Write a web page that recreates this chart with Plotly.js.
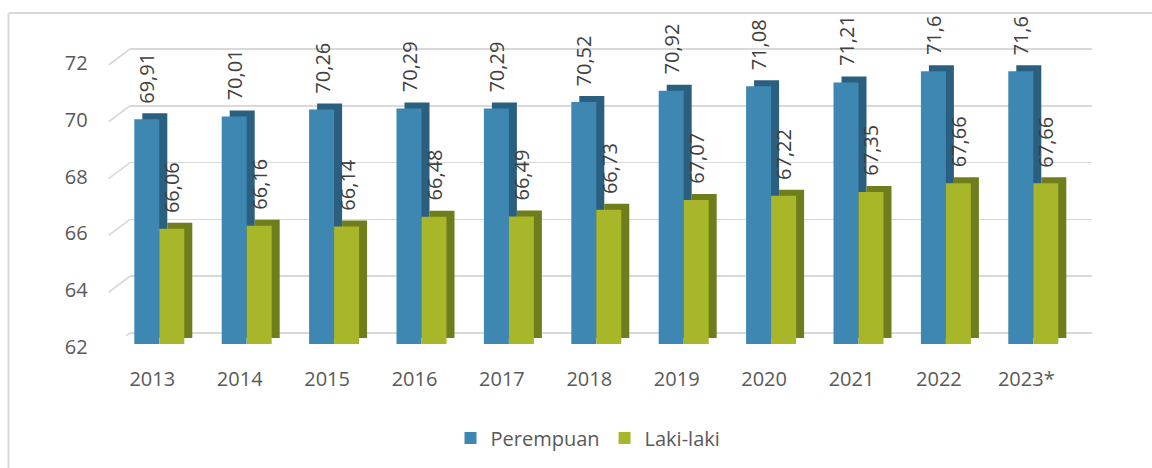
<!DOCTYPE html>
<html>
<head>
<meta charset="utf-8">
<script src="https://cdn.plot.ly/plotly-3.0.1.min.js"></script>
<style>
html,body{margin:0;padding:0;background:#fff;}
#chart{width:1152px;height:468px;}
</style>
</head>
<body>
<div id="chart"></div>
<script>
// ---- data ----
const years = ['2013','2014','2015','2016','2017','2018','2019','2020','2021','2022','2023*'];
const perempuan = [69.91,70.01,70.26,70.29,70.29,70.52,70.92,71.08,71.21,71.6,71.6];
const lakilaki  = [66.06,66.16,66.14,66.48,66.49,66.73,67.07,67.22,67.35,67.66,67.66];
const seriesNames = ['Perempuan','Laki-laki'];
const yTicks = [62,64,66,68,70,72];

// ---- geometry helpers ----
const W = 1152, H = 468;
const PX = 28.4;            // pixels per unit
const PAD = 0.1;            // range padding so edge gridlines are drawn
const dx = (a,b) => [a/W, b/W];
const dy = (top,bottom) => [1-bottom/H, 1-top/H];
const dyPad = (top,bottom) => dy(top-PAD*PX, bottom+PAD*PX);
const yr = [62, 72];
const yrPad = [62-PAD, 72+PAD];
const xr = [-0.5, 10.5];
const FONT = 'Open Sans, DejaVu Sans, sans-serif';
const FS = 20;

const blue = '#3e87b2', blueDark = '#2b5f7f';
const green = '#a8b62a', greenDark = '#6f7d1c';

const fmt = v => String(v).replace('.', ',');
// approximate rendered length of a rotated label (for placing it above the bar)
const labelLen = s => s.replace(/[^0-9]/g,'').length * 0.572 * FS + (s.includes(',') ? 0.25 * FS : 0);

const data = [
  {type:'scatter', x:[], y:[], xaxis:'x', yaxis:'y', showlegend:false, hoverinfo:'skip'},
  {type:'bar', x:years, y:perempuan, xaxis:'x2', yaxis:'y2', marker:{color:blueDark}, showlegend:false, hoverinfo:'skip'},
  {type:'bar', x:years, y:lakilaki, xaxis:'x2', yaxis:'y2', marker:{color:greenDark}, showlegend:false, hoverinfo:'skip'},
  {type:'bar', name:seriesNames[0], x:years, y:perempuan, xaxis:'x3', yaxis:'y3', marker:{color:blue}},
  {type:'bar', name:seriesNames[1], x:years, y:lakilaki, xaxis:'x3', yaxis:'y3', marker:{color:green}},
  {type:'scatter', x:[], y:[], xaxis:'x4', yaxis:'y4', showlegend:false, hoverinfo:'skip'}
];

const hidden = {showgrid:false, zeroline:false, showticklabels:false, ticks:'', showline:false};

const shapes = [];
yTicks.forEach(v => {
  shapes.push({type:'line', xref:'x domain', yref:'y', xsizemode:'pixel', xanchor:0, x0:-21.4, x1:0,
    ysizemode:'pixel', yanchor:v, y0:-16, y1:0, line:{color:'#d9d9d9', width:1.7}, layer:'below'});
});
// outer frame (left and top edges)
shapes.push({type:'line', xref:'paper', yref:'paper', x0:8.5/W, x1:8.5/W, y0:0, y1:1-13/H, line:{color:'#d9d9d9', width:2}});
shapes.push({type:'line', xref:'paper', yref:'paper', x0:8.5/W, x1:1, y0:1-13/H, y1:1-13/H, line:{color:'#d9d9d9', width:2}});

const annotations = [];
const addLabel = (i, v, xs) => {
  const t = fmt(v);
  annotations.push({xref:'x3', yref:'y3', x:i, y:v, text:t, textangle:-90,
    showarrow:true, arrowcolor:'rgba(0,0,0,0)', arrowwidth:0.1, arrowhead:0,
    ax:0, ay:-(16 + labelLen(t)/2), xshift:xs,
    font:{family:FONT, size:FS, color:'#404040'}});
};
years.forEach((yv,i) => {
  addLabel(i, perempuan[i], -12.5);
  addLabel(i, lakilaki[i], 12.5);
});

const layout = {
  width:W, height:H, autosize:false,
  margin:{l:0, r:0, t:0, b:0},
  paper_bgcolor:'#fff', plot_bgcolor:'rgba(0,0,0,0)',
  font:{family:FONT, size:FS, color:'#595959'},
  barmode:'group', bargap:0.428, bargroupgap:0,
  showlegend:true,
  legend:{orientation:'h', x:588/W, xanchor:'center', y:1-438/H, yanchor:'middle',
    font:{family:FONT, size:FS, color:'#595959'}, bgcolor:'rgba(0,0,0,0)'},
  // back wall (gridlines)
  xaxis:Object.assign({}, hidden, {domain:dx(130,1092), range:xr, type:'category', categoryarray:years, anchor:'y'}),
  yaxis:Object.assign({}, hidden, {domain:dyPad(49,333), range:yrPad, anchor:'x', showgrid:true, gridcolor:'#d9d9d9', gridwidth:1.7, tickvals:yTicks}),
  // bar depth (dark offset)
  xaxis2:Object.assign({}, hidden, {domain:dx(123.6,1085), range:xr, type:'category', categoryarray:years, anchor:'y2'}),
  yaxis2:Object.assign({}, hidden, {domain:dy(54,338), range:yr, anchor:'x2'}),
  // bar front faces
  xaxis3:Object.assign({}, hidden, {domain:dx(115.6,1077), range:xr, type:'category', categoryarray:years, anchor:'y3'}),
  yaxis3:Object.assign({}, hidden, {domain:dy(60,344), range:yr, anchor:'x3'}),
  // front plane labels
  xaxis4:{domain:dx(108.6,1070), range:xr, type:'linear', anchor:'y4', showgrid:false, zeroline:false, showline:false, ticks:'',
    tickvals:years.map((_,i)=>i), ticktext:years, ticklabelstandoff:16, tickfont:{family:FONT, size:FS, color:'#595959'}},
  yaxis4:{domain:dy(65,349), range:yr, anchor:'x4', showgrid:false, zeroline:false, showline:false, ticks:'',
    tickvals:yTicks, ticklabelstandoff:20, ticklabelshift:-2, tickfont:{family:FONT, size:FS, color:'#595959'}},
  shapes:shapes,
  annotations:annotations
};

Plotly.newPlot('chart', data, layout, {displayModeBar:false, staticPlot:true});
</script>
</body>
</html>
